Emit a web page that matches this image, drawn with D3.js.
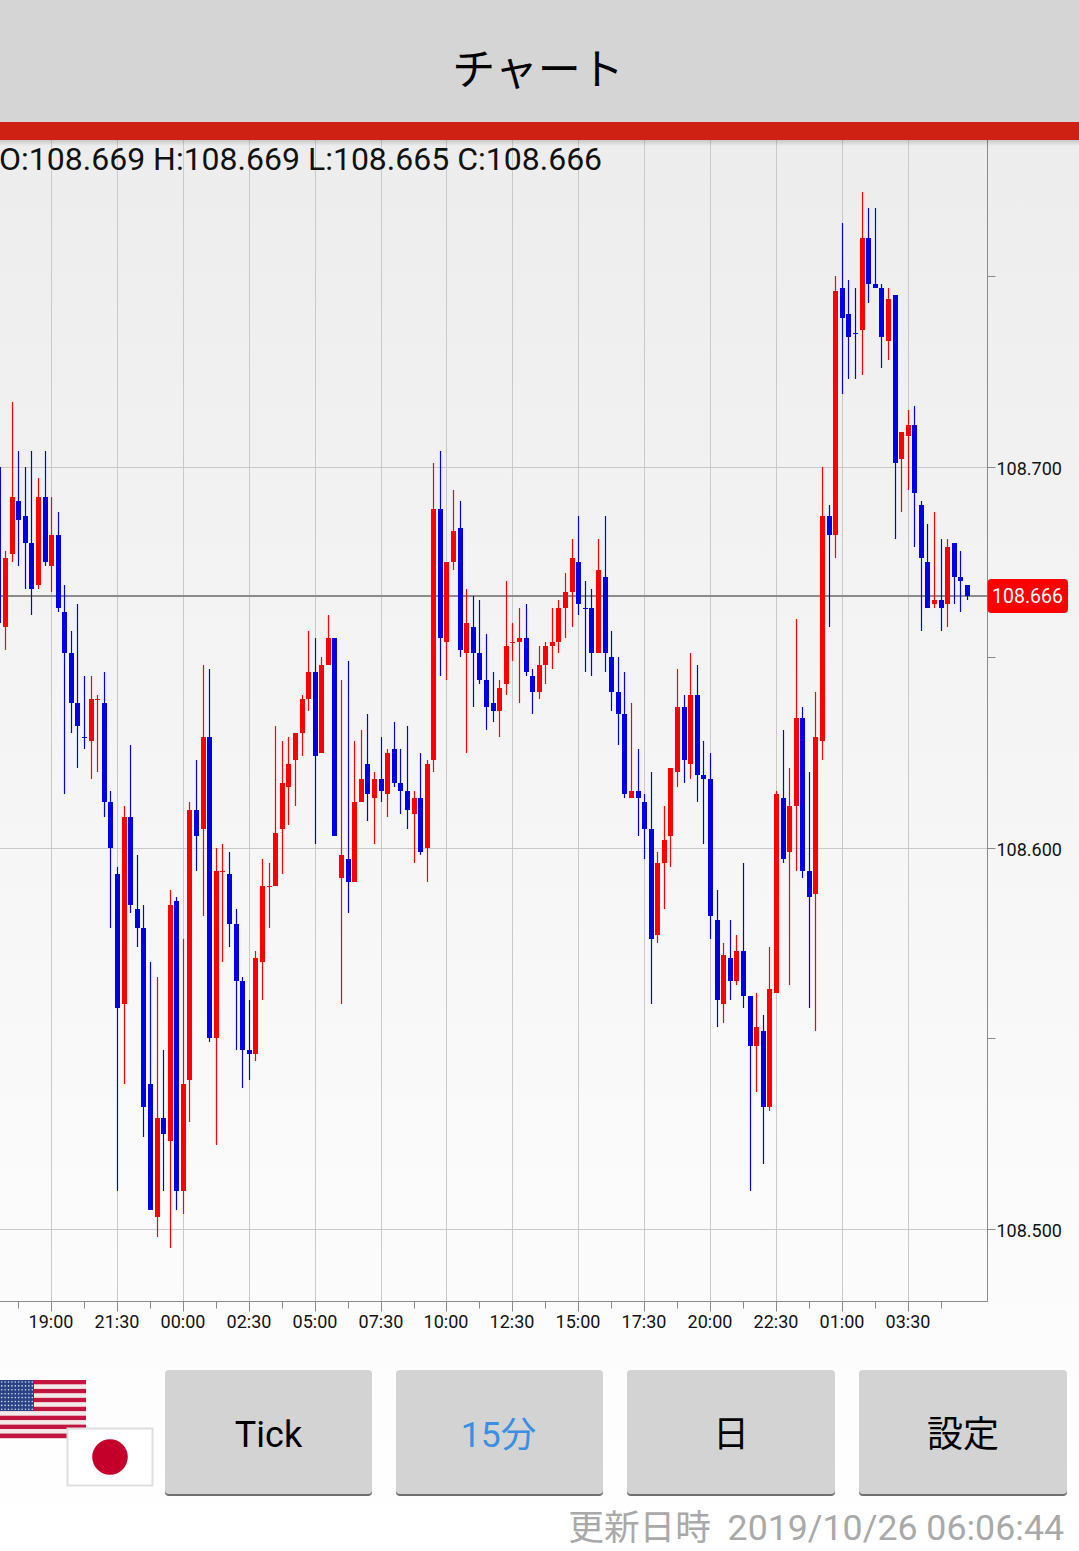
<!DOCTYPE html>
<html>
<head>
<meta charset="utf-8">
<script src="https://cdn.jsdelivr.net/npm/d3@7"></script>
<style>
html,body{margin:0;padding:0;background:#fff;overflow:hidden}
svg{display:block}
text{font-family:Roboto,"Noto Sans CJK JP",sans-serif}
</style>
</head>
<body>
<svg id="c" width="1079" height="1551"></svg>
<script>
const timeLabels=["19:00","21:30","00:00","02:30","05:00","07:30","10:00","12:30","15:00","17:30","20:00","22:30","01:00","03:30"];
const priceTicks=[108.75,108.7,108.65,108.6,108.55,108.5];
const labelledPrices=[108.7,108.6,108.5];
const lastPrice=108.666;
const ohlcText="O:108.669 H:108.669 L:108.665 C:108.666";
const buttonLabels=["Tick","15分","日","設定"];
const updateLabel="更新日時";
const updateStamp="2019/10/26 06:06:44";
const opens=[108.700,108.658,108.677,108.691,108.687,108.680,108.669,108.692,108.674,108.682,108.662,108.651,108.638,108.629,108.628,108.639,108.638,108.612,108.593,108.559,108.608,108.584,108.579,108.538,108.503,108.529,108.523,108.586,108.510,108.539,108.610,108.605,108.629,108.550,108.594,108.593,108.580,108.565,108.547,108.546,108.570,108.590,108.590,108.605,108.616,108.623,108.630,108.639,108.646,108.625,108.648,108.655,108.592,108.597,108.591,108.612,108.622,108.613,108.618,108.614,108.626,108.617,108.615,108.609,108.613,108.600,108.623,108.689,108.654,108.675,108.684,108.651,108.658,108.651,108.644,108.638,108.636,108.643,108.654,108.654,108.655,108.645,108.641,108.648,108.653,108.654,108.663,108.667,108.675,108.663,108.663,108.651,108.671,108.650,108.641,108.635,108.613,108.615,108.612,108.605,108.577,108.596,108.603,108.620,108.637,108.622,108.640,108.619,108.618,108.581,108.559,108.571,108.565,108.573,108.561,108.548,108.552,108.532,108.562,108.613,108.599,108.611,108.634,108.594,108.588,108.628,108.687,108.682,108.747,108.740,108.735,108.736,108.760,108.748,108.747,108.733,108.745,108.702,108.708,108.711,108.690,108.675,108.664,108.665,108.664,108.680,108.671,108.669];
const highs=[108.700,108.678,108.717,108.704,108.700,108.704,108.697,108.704,108.692,108.688,108.669,108.657,108.664,108.645,108.645,108.640,108.646,108.615,108.595,108.611,108.627,108.598,108.585,108.570,108.566,108.547,108.589,108.587,108.576,108.612,108.623,108.648,108.647,108.600,108.601,108.599,108.584,108.566,108.560,108.573,108.597,108.596,108.632,108.628,108.629,108.630,108.640,108.657,108.655,108.650,108.661,108.655,108.644,108.649,108.628,108.631,108.635,108.620,108.629,108.626,108.633,108.626,108.632,108.615,108.625,108.623,108.701,108.704,108.675,108.694,108.691,108.668,108.666,108.665,108.656,108.646,108.644,108.670,108.659,108.663,108.664,108.647,108.653,108.654,108.663,108.665,108.672,108.681,108.687,108.670,108.668,108.681,108.687,108.657,108.650,108.646,108.638,108.626,108.614,108.620,108.599,108.611,108.621,108.647,108.640,108.651,108.648,108.628,108.625,108.589,108.575,108.581,108.577,108.596,108.561,108.562,108.556,108.574,108.615,108.631,108.621,108.660,108.637,108.620,108.641,108.700,108.690,108.750,108.764,108.749,108.747,108.772,108.768,108.768,108.748,108.747,108.745,108.709,108.715,108.716,108.691,108.685,108.688,108.681,108.681,108.680,108.678,108.669];
const lows=[108.659,108.652,108.675,108.674,108.668,108.661,108.668,108.674,108.667,108.662,108.614,108.630,108.621,108.626,108.618,108.620,108.608,108.579,108.510,108.538,108.583,108.574,108.524,108.505,108.498,108.510,108.495,108.505,108.504,108.528,108.594,108.582,108.549,108.522,108.570,108.574,108.547,108.537,108.539,108.544,108.560,108.579,108.590,108.593,108.606,108.611,108.624,108.636,108.601,108.625,108.648,108.603,108.559,108.583,108.591,108.612,108.607,108.601,108.612,108.608,108.616,108.609,108.605,108.596,108.598,108.591,108.620,108.645,108.644,108.673,108.650,108.625,108.637,108.643,108.631,108.633,108.629,108.640,108.649,108.638,108.645,108.635,108.639,108.643,108.647,108.651,108.655,108.658,108.661,108.646,108.645,108.651,108.646,108.636,108.627,108.613,108.613,108.603,108.597,108.559,108.575,108.584,108.595,108.616,108.617,108.618,108.612,108.601,108.576,108.553,108.554,108.560,108.564,108.558,108.510,108.536,108.517,108.531,108.562,108.596,108.564,108.594,108.592,108.558,108.552,108.623,108.658,108.676,108.719,108.723,108.723,108.724,108.743,108.747,108.726,108.728,108.681,108.688,108.694,108.679,108.657,108.663,108.663,108.657,108.658,108.664,108.662,108.665];
const closes=[108.659,108.676,108.692,108.686,108.680,108.668,108.692,108.675,108.682,108.663,108.651,108.638,108.632,108.629,108.639,108.639,108.612,108.600,108.558,108.608,108.585,108.579,108.532,108.505,108.529,108.525,108.585,108.510,108.538,108.610,108.603,108.629,108.550,108.594,108.594,108.580,108.565,108.547,108.546,108.571,108.590,108.590,108.604,108.617,108.622,108.630,108.639,108.646,108.624,108.648,108.655,108.603,108.598,108.591,108.612,108.618,108.614,108.618,108.615,108.625,108.617,108.615,108.610,108.613,108.599,108.622,108.689,108.655,108.675,108.683,108.652,108.659,108.651,108.644,108.637,108.636,108.642,108.653,108.654,108.655,108.646,108.641,108.648,108.653,108.654,108.663,108.667,108.676,108.664,108.663,108.651,108.673,108.651,108.641,108.635,108.614,108.615,108.613,108.605,108.576,108.596,108.602,108.621,108.637,108.623,108.640,108.619,108.618,108.582,108.560,108.572,108.565,108.573,108.561,108.548,108.553,108.532,108.563,108.614,108.597,108.611,108.634,108.594,108.587,108.629,108.687,108.682,108.746,108.739,108.734,108.735,108.760,108.748,108.747,108.734,108.744,108.701,108.709,108.711,108.693,108.676,108.663,108.665,108.663,108.679,108.671,108.670,108.666];
const flatDownBars=[13,89,130];

const UP="#ff0000",DOWN="#0000e6",GRID="#c9c9c9",AXIS="#8a8a8a";
const svg=d3.select("#c");
const defs=svg.append("defs");
const pageGrad=defs.append("linearGradient").attr("id","pg").attr("x1",0).attr("x2",0).attr("y1",0).attr("y2",1);
pageGrad.append("stop").attr("offset",0).attr("stop-color","#ededed");
pageGrad.append("stop").attr("offset",1).attr("stop-color","#ffffff");
const shadow=defs.append("linearGradient").attr("id","sh").attr("x1",0).attr("x2",0).attr("y1",0).attr("y2",1);
shadow.append("stop").attr("offset",0).attr("stop-color","#000").attr("stop-opacity",.16);
shadow.append("stop").attr("offset",1).attr("stop-color","#000").attr("stop-opacity",0);
defs.append("filter").attr("id","soft").append("feGaussianBlur").attr("stdDeviation",.5);

// page chrome
svg.append("rect").attr("y",140).attr("width",1079).attr("height",1411).attr("fill","url(#pg)");
svg.append("rect").attr("width",1079).attr("height",122).attr("fill","#d5d5d5");
svg.append("rect").attr("y",122).attr("width",1079).attr("height",18).attr("fill","#cf2014");

const plot={left:0,right:987.5,top:140,bottom:1301.5};
const x=d3.scaleLinear().domain([1,147]).range([5.5,967.5]);
const cx=i=>Math.round(x(i)-0.5)+0.5;
const y=d3.scaleLinear().domain([108.5,108.7]).range([1229.6,467.4]);
const ry=v=>Math.round(y(v)-0.7);
const px=v=>ry(v)+0.5;

// grid
const majorIdx=timeLabels.map((_,i)=>8+i*10);
const minorIdx=d3.range(3,148,10);
const g=svg.append("g");
g.selectAll("line.v").data(majorIdx).join("line").attr("class","v")
 .attr("x1",cx).attr("x2",cx).attr("y1",plot.top).attr("y2",plot.bottom).attr("stroke",GRID).attr("stroke-width",1);
g.selectAll("line.h").data(labelledPrices).join("line").attr("class","h")
 .attr("x1",0).attr("x2",plot.right).attr("y1",px).attr("y2",px).attr("stroke",GRID).attr("stroke-width",1);

// current price line
svg.append("line").attr("x1",0).attr("x2",plot.right).attr("y1",ry(lastPrice)).attr("y2",ry(lastPrice)).attr("stroke","#8c8c8c").attr("stroke-width",2);

// candles
const bars=d3.range(opens.length).map(i=>({i,o:opens[i],h:highs[i],l:lows[i],c:closes[i]}));
const color=d=>d.c>d.o?UP:d.c<d.o?DOWN:(flatDownBars.includes(d.i)?DOWN:UP);
const cg=svg.append("g").selectAll("g").data(bars).join("g");
cg.append("line").attr("x1",d=>cx(d.i)).attr("x2",d=>cx(d.i)).attr("y1",d=>ry(d.h)).attr("y2",d=>ry(d.l)).attr("stroke",color).attr("stroke-width",1.2);
cg.append("rect").attr("x",d=>cx(d.i)-2.5).attr("width",5)
 .attr("y",d=>ry(Math.max(d.o,d.c)))
 .attr("height",d=>Math.max(1,ry(Math.min(d.o,d.c))-ry(Math.max(d.o,d.c))))
 .attr("fill",color);

// axes frame
svg.append("line").attr("x1",plot.right).attr("x2",plot.right).attr("y1",plot.top).attr("y2",plot.bottom).attr("stroke",AXIS);
svg.append("line").attr("x1",0).attr("x2",plot.right).attr("y1",plot.bottom).attr("y2",plot.bottom).attr("stroke",AXIS);

const fmtY=d3.format(".3f");
const yAxis=d3.axisRight(y).tickValues(priceTicks).tickSize(8).tickPadding(1)
 .tickFormat(v=>labelledPrices.includes(v)?fmtY(v):"");
const ya=svg.append("g").attr("transform",`translate(${plot.right},0)`).call(yAxis);
ya.select(".domain").remove();
ya.selectAll("g.tick").attr("transform",d=>`translate(0,${px(d)})`);
ya.selectAll("line").attr("stroke",AXIS);
ya.selectAll("text").attr("font-size",18).attr("fill","#111").attr("font-family","Roboto").attr("y",1.5);

const xAxisMajor=d3.axisBottom(x).tickValues(majorIdx).tickSize(10).tickPadding(4).tickFormat((d,i)=>timeLabels[i]);
const xa=svg.append("g").attr("transform",`translate(0,${plot.bottom})`).call(xAxisMajor);
xa.select(".domain").remove();
xa.selectAll("g.tick").attr("transform",d=>`translate(${cx(d)},0)`);
xa.selectAll("line").attr("stroke",AXIS);
xa.selectAll("text").attr("font-size",18).attr("fill","#111").attr("font-family","Roboto").attr("x",-0.5);
const xb=svg.append("g").attr("transform",`translate(0,${plot.bottom})`).call(d3.axisBottom(x).tickValues(minorIdx).tickSize(7).tickFormat(""));
xb.select(".domain").remove();
xb.selectAll("g.tick").attr("transform",d=>`translate(${cx(d)},0)`);
xb.selectAll("line").attr("stroke",AXIS);

// last price tag
svg.append("rect").attr("x",987.5).attr("y",ry(lastPrice)-17).attr("width",80.5).attr("height",34).attr("rx",4).attr("fill","#ff0000");
svg.append("text").attr("x",1027.5).attr("y",ry(lastPrice)+7).attr("text-anchor","middle").attr("font-size",19.5).attr("fill","#fff").text(fmtY(lastPrice));

// header shadow and texts
svg.append("rect").attr("y",140).attr("width",1079).attr("height",6).attr("fill","url(#sh)");
svg.append("text").attr("x",538).attr("y",85).attr("text-anchor","middle").attr("font-size",43).attr("fill","#000").attr("font-family","'Noto Sans CJK JP'").text("チャート");
svg.append("text").attr("x",-1).attr("y",170).attr("font-size",32).attr("fill","#111").text(ohlcText);

// flags
const usa=svg.append("g").attr("transform","translate(0,1380)").attr("filter","url(#soft)");
const stripe=58/13;
usa.selectAll("rect.s").data(d3.range(13)).join("rect").attr("class","s")
 .attr("x",0).attr("width",86).attr("y",d=>d*stripe).attr("height",stripe+.2)
 .attr("fill",d=>d%2?"#f1e9ea":"#c2193f");
usa.append("rect").attr("width",34).attr("height",31).attr("fill","#2b4386");
usa.selectAll("circle").data(d3.cross(d3.range(10),d3.range(8))).join("circle")
 .attr("cx",d=>1.7+d[0]*3.4).attr("cy",d=>2+d[1]*3.9).attr("r",.8).attr("fill","#d8dcec");
svg.append("rect").attr("x",67.5).attr("y",1428.5).attr("width",85).attr("height",57).attr("fill","#fff").attr("stroke","#dedede").attr("stroke-width",2);
svg.append("circle").attr("cx",110).attr("cy",1457).attr("r",17.8).attr("fill","#c4002b").attr("filter","url(#soft)");

// buttons
const btnX=[165,396,627,859],btnW=[207,207,208,208];
const bg=svg.append("g").selectAll("g").data(buttonLabels).join("g");
bg.append("rect").attr("x",(d,i)=>btnX[i]).attr("y",1372).attr("width",(d,i)=>btnW[i]).attr("height",124).attr("rx",4).attr("fill","#6f6f6f");
bg.append("rect").attr("x",(d,i)=>btnX[i]).attr("y",1370).attr("width",(d,i)=>btnW[i]).attr("height",124).attr("rx",4).attr("fill","#d3d3d3");
bg.append("text").attr("x",(d,i)=>btnX[i]+btnW[i]/2-(i==1?1:0)).attr("y",1447).attr("text-anchor","middle").attr("font-size",(d,i)=>i==1?35.5:36)
 .attr("fill",(d,i)=>i==1?"#3b8fe3":"#000").text(d=>d);
svg.append("text").attr("x",711).attr("y",1540).attr("text-anchor","end").attr("font-size",35.7).attr("fill","#a9a9a9").text(updateLabel);
svg.append("text").attr("x",1064).attr("y",1540).attr("text-anchor","end").attr("font-size",35.7).attr("fill","#a9a9a9").text(updateStamp);
</script>
</body>
</html>
